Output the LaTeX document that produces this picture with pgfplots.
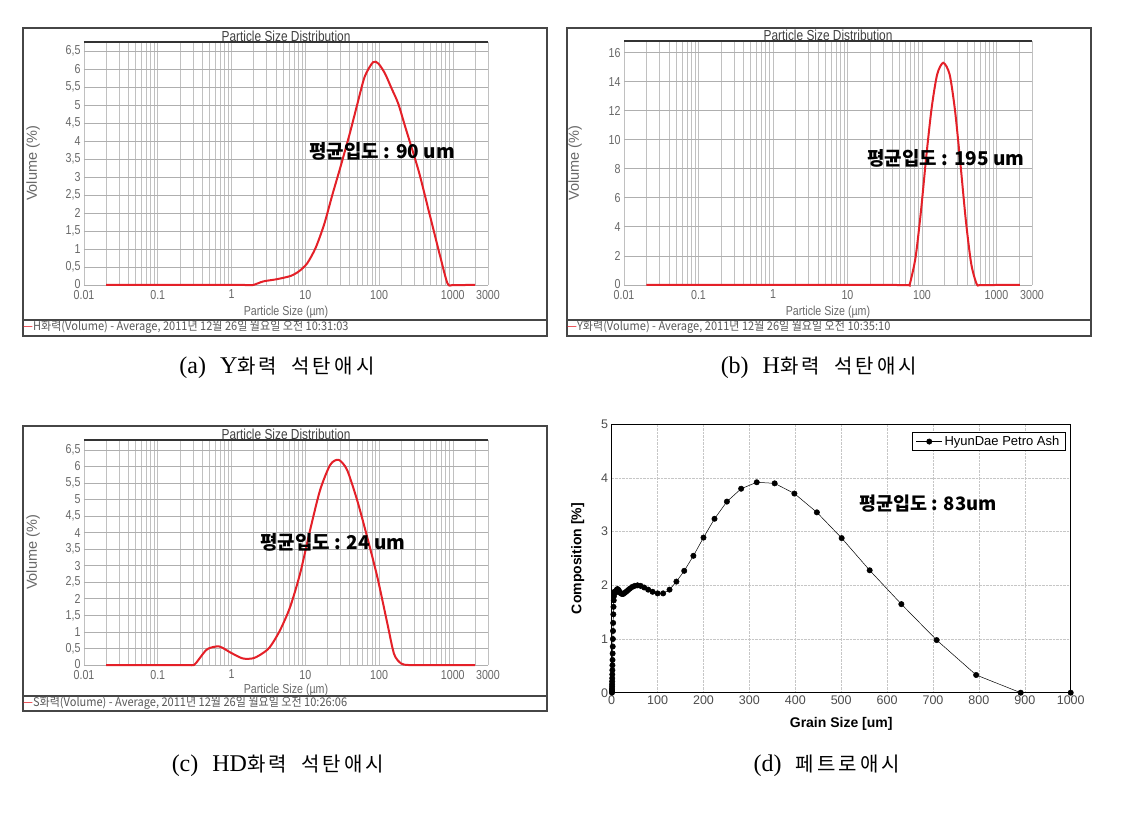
\documentclass[border=0pt]{standalone}
\usepackage{pgfplots}
\pgfplotsset{compat=1.18}
\usepackage{fontspec}
\setmainfont{Liberation Sans}
\newfontfamily\narrow{Liberation Sans}[FakeStretch=0.82]
\newfontfamily\cjk{Noto Sans CJK KR}
\newfontfamily\cjknarrow{Noto Sans CJK KR}[FakeStretch=0.92]
\newfontfamily\cjkcap{Noto Sans CJK KR}[LetterSpace=16]
\newfontfamily\serif{Liberation Serif}
\definecolor{tickgray}{RGB}{105,105,105}
\definecolor{gridgray}{RGB}{192,192,192}
\definecolor{hgridgray}{RGB}{175,175,175}
\definecolor{curvered}{RGB}{228,32,40}
\definecolor{framegray}{RGB}{70,70,70}

\pgfplotsset{
  psd/.style={
    scale only axis,
    anchor=south west,
    xmin=0.01, xmax=3000,
    ymin=0,
    axis line style={draw=none},
    tick style={draw=none},
    xtick={0.01,0.1,1,10,100,1000,3000},
    xticklabels={0.01,0.1,1,10,100,1000,3000},
    minor xtick={0.02,0.03,0.04,0.05,0.06,0.07,0.08,0.09,0.2,0.3,0.4,0.5,0.6,0.7,0.8,0.9,2,3,4,5,6,7,8,9,20,30,40,50,60,70,80,90,200,300,400,500,600,700,800,900,2000},
    grid=both,
    x grid style={gridgray, line width=0.6pt},
    y grid style={hgridgray, line width=0.8pt},
    minor grid style={gridgray, line width=0.6pt},
    ticklabel style={font=\narrow\fontsize{13}{14}\selectfont, text=tickgray},
    xticklabel style={yshift=-1.5pt},
    xlabel={Particle Size (µm)},
    ylabel={Volume (\%)},
    x label style={font=\narrow\fontsize{13}{14}\selectfont, text=tickgray, at={(axis description cs:0.5,0)}, anchor=center, yshift=-27pt},
    y label style={font=\fontsize{14.5}{15}\selectfont, text=tickgray},
    clip=false,
  },
  redcurve/.style={curvered, line width=2pt, smooth, tension=0.45},
}
\newcommand{\psdtitle}{%
  \draw[black!80, line width=1.6pt] (rel axis cs:0,1) -- (rel axis cs:1,1);
  \node[anchor=base, inner sep=0pt, font=\narrow\fontsize{14.5}{15}\selectfont, text=black!75] at ([yshift=0.5pt]rel axis cs:0.5,1) {Particle Size Distribution};}

\begin{document}
\begin{tikzpicture}
\useasboundingbox (0pt,0pt) rectangle (1127pt,814pt);
\fill[white] (0pt,0pt) rectangle (1127pt,814pt);

% ---------------- (a) ----------------
\draw[framegray, line width=1.5pt] (23pt,786pt) rectangle (547pt,478pt);
\draw[framegray, line width=1.5pt] (23pt,494pt) -- (547pt,494pt);
\begin{semilogxaxis}[psd, at={(84pt,529pt)}, width=404pt, height=243pt, ymax=6.75,
  ytick={0,0.5,1,1.5,2,2.5,3,3.5,4,4.5,5,5.5,6,6.5},
  yticklabels={\raisebox{3pt}{0},{0,5},1,{1,5},2,{2,5},3,{3,5},4,{4,5},5,{5,5},6,{6,5}},
  y label style={at={(axis description cs:-0.126,0.5)}, anchor=center}]
\addplot[redcurve] table {
x y
0.02 0
0.5 0
1.5 0
1.96 0
2.7 0.1
4.1 0.16
6.3 0.25
8.2 0.38
10.6 0.6
13.8 1.03
18 1.68
23.4 2.52
30 3.28
40 4.2
51 5.04
64 5.79
83 6.19
98 6.15
120 5.88
148 5.46
182 5.04
226 4.4
344 3.17
473 2.05
649 0.93
845 0.05
1000 0
1500 0
2000 0
};
\psdtitle
\node[font=\cjk\bfseries\fontsize{19}{21}\selectfont, text=black] at (axis cs:110,3.72) {평균입도 : 90 um};
\end{semilogxaxis}
\node[anchor=west, inner sep=0pt, font=\cjknarrow\fontsize{12}{13}\selectfont, text=black!65] at (23pt,487pt) {{\color{curvered}—}H화력(Volume) - Average, 2011년 12월 26일 월요일 오전 10:31:03};

% ---------------- (b) ----------------
\draw[framegray, line width=1.5pt] (567pt,786pt) rectangle (1091pt,478pt);
\draw[framegray, line width=1.5pt] (567pt,494pt) -- (1091pt,494pt);
\begin{semilogxaxis}[psd, at={(624pt,529pt)}, width=408pt, height=244pt, ymax=16.8,
  ytick={0,2,4,6,8,10,12,14,16},
  yticklabels={\raisebox{3pt}{0},2,4,6,8,10,12,14,16},
  y label style={at={(axis description cs:-0.12,0.5)}, anchor=center}]
\addplot[redcurve] table {
x y
0.02 0
1 0
40 0
65.5 0
69 0.1
82 1.9
97 5.1
114 8.8
135 12.2
160 14.5
193 15.3
235 14.5
278 12.0
329 8.3
389 4.4
459 1.44
543 0.05
600 0
1000 0
2061 0
};
\psdtitle
\node[font=\cjk\bfseries\fontsize{19}{21}\selectfont, text=black] at (axis cs:210,8.7) {평균입도 : 195 um};
\end{semilogxaxis}
\node[anchor=west, inner sep=0pt, font=\cjknarrow\fontsize{12}{13}\selectfont, text=black!65] at (567pt,487pt) {{\color{curvered}—}Y화력(Volume) - Average, 2011년 12월 26일 월요일 오전 10:35:10};

% ---------------- (c) ----------------
\draw[framegray, line width=1.5pt] (23pt,388pt) rectangle (547pt,103pt);
\draw[framegray, line width=1.5pt] (23pt,118pt) -- (547pt,118pt);
\begin{semilogxaxis}[psd, at={(84pt,149pt)}, width=404pt, height=225pt, ymax=6.8,
  ytick={0,0.5,1,1.5,2,2.5,3,3.5,4,4.5,5,5.5,6,6.5},
  yticklabels={\raisebox{3pt}{0},{0,5},1,{1,5},2,{2,5},3,{3,5},4,{4,5},5,{5,5},6,{6,5}},
  x label style={yshift=2pt},
  y label style={at={(axis description cs:-0.126,0.5)}, anchor=center}]
\addplot[redcurve] table {
x y
0.02 0
0.1 0
0.25 0
0.31 0
0.36 0.17
0.47 0.48
0.68 0.56
0.98 0.37
1.41 0.2
1.94 0.2
2.5 0.32
3.28 0.53
4.5 1.03
6.2 1.74
8.5 2.76
11.6 4.07
15.9 5.29
21.8 6.05
28.3 6.2
36.8 5.9
50.5 4.98
69 3.87
95 2.65
130 1.24
160 0.33
198 0.05
250 0
500 0
2000 0
};
\psdtitle
\node[font=\cjk\bfseries\fontsize{19}{21}\selectfont, text=black] at (axis cs:23.7,3.72) {평균입도 : 24 um};
\end{semilogxaxis}
\node[anchor=west, inner sep=0pt, font=\cjknarrow\fontsize{12}{13}\selectfont, text=black!65] at (23pt,110.5pt) {{\color{curvered}—}S화력(Volume) - Average, 2011년 12월 26일 월요일 오전 10:26:06};

% ---------------- (d) ----------------
\begin{axis}[at={(611.7pt,121.3pt)}, anchor=south west, scale only axis,
  width=459pt, height=268.4pt,
  xmin=0, xmax=1000, ymin=0, ymax=5,
  xtick={0,100,200,300,400,500,600,700,800,900,1000},
  ytick={0,1,2,3,4,5},
  grid=major, grid style={gray!45, densely dotted, line width=0.6pt},
  axis line style={black, line width=0.9pt},
  tick style={draw=none},
  ticklabel style={font=\fontsize{12.5}{13}\selectfont, text=black!70},
  /pgf/number format/assume math mode=true,
  /pgf/number format/1000 sep={},
  xlabel={Grain Size [um]}, ylabel={Composition [\%]},
  label style={font=\bfseries\fontsize{14}{15}\selectfont},
  x label style={at={(axis description cs:0.5,0)}, anchor=center, yshift=-31pt},
  y label style={at={(axis description cs:-0.074,0.5)}, anchor=center},
  legend style={at={(1,1)}, anchor=north east, xshift=-5pt, yshift=-8pt, draw=black, line width=0.6pt, font=\fontsize{13}{14}\selectfont, inner xsep=4pt, inner ysep=1.5pt, legend cell align=left},
  legend image code/.code={\draw[mark repeat=2,mark phase=2,#1] plot coordinates {(0pt,0pt) (13pt,0pt) (26pt,0pt)};},
  clip=false]
\addplot[black, line width=0.5pt, mark=*, mark size=2.7pt, mark options={fill=black}] table {
x y
0.5 0.0
0.56 0.02
0.63 0.05
0.71 0.08
0.79 0.12
0.89 0.16
1.0 0.21
1.12 0.27
1.26 0.34
1.41 0.42
1.58 0.51
1.78 0.61
2.0 0.73
2.24 0.86
2.51 1.0
2.82 1.15
3.16 1.3
3.55 1.46
3.98 1.6
4.47 1.72
5.01 1.8
5.62 1.86
6.31 1.88
7.08 1.88
7.94 1.87
8.91 1.87
10 1.89
11.2 1.92
12.6 1.93
14.1 1.92
15.8 1.9
17.8 1.87
20 1.85
22.4 1.84
25.1 1.84
28.2 1.86
31.6 1.88
35.5 1.91
39.8 1.94
44.7 1.97
50.1 1.99
56.2 2.0
63.1 1.99
70.8 1.96
79.4 1.92
89.1 1.88
100 1.85
112 1.85
126 1.92
141 2.07
158 2.27
178 2.55
200 2.89
224 3.24
251 3.56
282 3.80
316 3.92
355 3.90
398 3.71
447 3.36
501 2.88
562 2.28
631 1.65
708 0.98
794 0.33
891 0.0
1000 0.0
};
\addlegendentry{HyunDae Petro Ash}
\node[font=\cjk\bfseries\fontsize{18.5}{20}\selectfont, text=black] at (axis cs:689,3.53) {평균입도 : 83um};
\end{axis}

% ---------------- captions ----------------
\node[inner sep=0pt] at (277pt,446pt) {{\serif\fontsize{24}{26}\selectfont (a)\hspace{14pt}Y}{\cjkcap\fontsize{20}{22}\selectfont 화력\hspace{14pt}석탄애시}};
\node[inner sep=0pt] at (819pt,446pt) {{\serif\fontsize{24}{26}\selectfont (b)\hspace{14pt}H}{\cjkcap\fontsize{20}{22}\selectfont 화력\hspace{14pt}석탄애시}};
\node[inner sep=0pt] at (278pt,48pt) {{\serif\fontsize{24}{26}\selectfont (c)\hspace{14pt}HD}{\cjkcap\fontsize{20}{22}\selectfont 화력\hspace{14pt}석탄애시}};
\node[inner sep=0pt] at (827pt,48pt) {{\serif\fontsize{24}{26}\selectfont (d)\hspace{14pt}}{\cjkcap\fontsize{20}{22}\selectfont 페트로애시}};
\end{tikzpicture}
\end{document}
